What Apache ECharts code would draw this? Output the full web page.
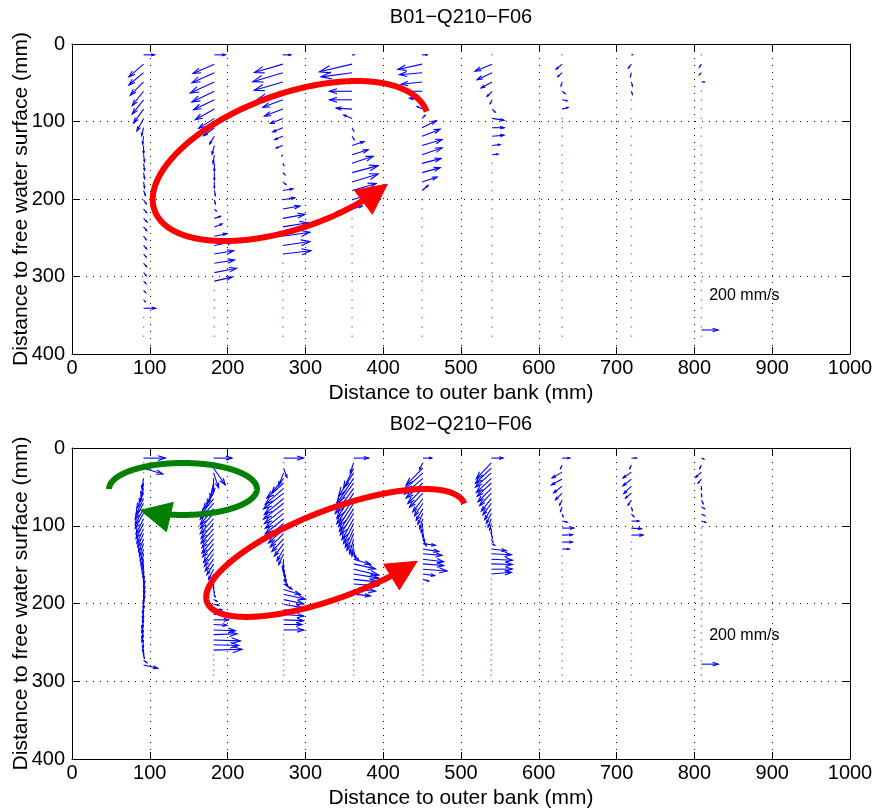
<!DOCTYPE html>
<html><head><meta charset="utf-8">
<script src="https://cdn.jsdelivr.net/npm/echarts@6/dist/echarts.min.js"></script>
<style>html,body{margin:0;padding:0;background:#fff}#c{width:875px;height:811px}</style>
</head><body><div id="c"></div>
<script>
// ---------------- DATA ----------------
const titleTop = 'B01\u2212Q210\u2212F06';
const titleBot = 'B02\u2212Q210\u2212F06';
const xName = 'Distance to outer bank (mm)';
const yName = 'Distance to free water surface (mm)';
const xTicks = [0, 100, 200, 300, 400, 500, 600, 700, 800, 900, 1000];
const yTicks = [0, 100, 200, 300, 400];

// measurement depths (mm)
const depthTop = [14, 26, 37, 49, 61, 72, 84, 96, 108, 119, 131, 143, 154, 166, 178, 189, 201, 213, 225, 236, 248, 260, 271, 283, 295, 306, 318, 330, 341, 353, 365, 377];
const depthBotDense = [13, 19, 26, 32, 39, 45, 52, 58, 65, 71, 78, 84, 91, 97, 104, 110, 117, 123, 130, 136, 143, 149, 156, 162, 169, 175, 182, 188, 195, 201, 208, 214, 221, 227, 234, 240, 247, 253, 260, 266, 273, 279, 286, 292];
const depthBotSparse = [13, 22, 31, 40, 49, 58, 67, 76, 85, 94, 103, 112, 121, 130, 139, 148, 157, 166, 175, 184, 193, 202, 211, 220, 229, 238, 247, 256, 265, 274, 283, 292];

// verticals (distance to outer bank, mm)
const xTop = [92, 183, 271, 360, 450, 540, 630, 719, 809];
const xBot = [92, 182, 272, 362, 451, 539, 630, 719, 809];
const pointsTop = [32, 32, 32, 32, 32, 32, 32, 32, 32];
const pointsBot = [42, 44, 44, 44, 44, 44, 32, 32, 32];

// B01: transverse velocity u (mm/s, + towards inner bank) and vertical velocity w (mm/s, + upward)
const uTop1 = [132, -176, -176, -160, -136, -136, -120, -80, -24, -12, 0, 12, 12, 12, 12, 24, 30, 36, 40, 36, 30, 36, 32, 36, 30, 28, 24, 20, 144];
const wTop1 = [0, -152, -148, -160, -172, -172, -168, -152, -96, -96, -96, -84, -84, -72, -72, -60, -48, -44, -42, -44, -40, -38, -36, -40, -36, -30, -26, -24, 0];
const uTop2 = [132, -256, -268, -288, -268, -248, -228, -188, -128, -56, -28, -16, 0, 0, 0, 12, 12, 24, 72, 92, 150, 232, 232, 240, 264, 212];
const wTop2 = [0, -112, -120, -132, -128, -120, -128, -120, -96, -92, -104, -104, -96, -90, -72, -60, -48, -24, 24, 36, 30, 48, 40, 40, 52, 48];
const uTop3 = [96, -340, -360, -340, -300, -240, -220, -150, -120, -96, -80, -12, 12, 24, 36, 120, 144, 204, 264, 300, 324, 324, 336];
const wTop3 = [0, -100, -108, -100, -96, -90, -84, -60, -50, -40, -30, -12, -24, -24, -30, 20, 24, 36, 48, 50, 48, 48, 40];
const uTop4 = [24, -390, -370, -250, -270, -270, -190, -100, 20, 24, 144, 192, 252, 312, 312, 288, 240, 120];
const wTop4 = [0, -92, -50, -12, 0, 0, 12, 40, -40, -40, 48, 60, 84, 84, 96, 84, 72, 36];
const uTop5 = [60, -290, -270, -250, -220, -150, -60, 36, 168, 216, 240, 240, 228, 216, 180, 72];
const wTop5 = [0, -64, -24, -28, 0, 20, 30, 36, 84, 84, 72, 84, 60, 60, 60, 60];
const uTop6 = [0, -204, -180, -132, -60, -24, 36, 144, 144, 144, 96, 72];
const wTop6 = [0, -84, -84, -72, -60, -48, -36, -24, 0, 12, 12, 8];
const uTop7 = [0, -72, -52, -12, 36, 60, 72];
const wTop7 = [0, -60, -48, -48, -28, -12, 20];
const uTop8 = [12, -36, -12, 12, 12];
const wTop8 = [0, -48, -48, -48, -36];
const uTop9 = [0, -24, -24, 36];
const wTop9 = [0, -36, -24, 0];

// B02
const uBot1 = [260, 0, 230, 0, -20, -30, -50, -80, -90, -100, -100, -100, -90, -90, -80, -70, -60, -50, -40, -30, -20, -10, 0, 10, 10, 10, 10, 0, 0, -10, -10, -10, -20, -20, -20, -20, -10, -10, 0, 10, 40, 170];
const wBot1 = [0, 0, -70, 0, -120, -150, -170, -180, -190, -190, -190, -180, -180, -180, -170, -160, -150, -150, -140, -140, -130, -130, -120, -120, -120, -120, -110, -110, -110, -110, -110, -100, -100, -100, -100, -90, -90, -80, -60, -40, -30, -40];
const uBot2 = [220, 0, 140, 60, 0, -40, -80, -120, -150, -160, -160, -160, -160, -150, -150, -140, -140, -130, -120, -110, -100, -80, -60, -40, -20, 0, 10, 20, 40, 60, 100, 140, 180, 160, 260, 280, 320, 300, 340];
const wBot2 = [0, 0, -200, -180, -170, -180, -190, -190, -190, -190, -190, -180, -180, -180, -170, -170, -170, -160, -160, -150, -140, -130, -120, -100, -80, -60, -40, -30, -20, -10, 0, 0, 0, -10, -10, 10, -10, -10, 10];
const uBot3 = [240, 0, 40, -60, -140, -200, -220, -240, -230, -240, -230, -220, -220, -200, -180, -160, -140, -110, -80, -60, -10, 0, 20, 30, 50, 100, 200, 260, 240, 220, 200, 240, 240, 220, 240];
const wBot3 = [0, 0, -110, -150, -170, -180, -190, -190, -190, -190, -180, -180, -180, -170, -170, -160, -150, -150, -140, -130, -120, -110, -100, -90, -80, -60, -60, -60, -50, -40, -20, -20, -10, 0, 0];
const uBot4 = [180, -40, -120, -180, -200, -220, -220, -200, -200, -180, -170, -160, -140, -120, -100, -80, -50, -20, 20, 60, 200, 260, 300, 300, 280, 300, 260, 200];
const wBot4 = [0, -120, -240, -280, -300, -300, -300, -300, -300, -280, -270, -260, -250, -240, -220, -200, -180, -150, -110, -80, -60, -60, -70, -50, -30, -20, -20, -20];
const uBot5 = [108, -40, -200, -220, -220, -200, -180, -160, -120, -100, -80, -60, -40, -20, 0, 20, 40, 150, 190, 230, 250, 250, 290, 140, 70];
const wBot5 = [0, -80, -200, -200, -190, -180, -180, -170, -160, -150, -140, -130, -120, -110, -100, -100, -80, -20, -30, -20, -30, -20, -20, -20, -20];
const uBot6 = [140, -180, -190, -190, -180, -170, -160, -140, -120, -100, -80, -60, -40, -20, 0, 12, 20, 40, 180, 240, 252, 252, 250, 240];
const wBot6 = [0, -190, -180, -170, -170, -160, -160, -150, -150, -140, -130, -120, -100, -80, -60, -50, -40, -20, -20, -12, -12, -8, 4, 20];
const uBot7 = [92, -20, -120, -128, -100, -80, -30, -20, 12, 60, 140, 124, 124, 84];
const wBot7 = [0, -40, -70, -70, -80, -80, -60, -50, -30, -12, 0, 4, 0, 0];
const uBot8 = [60, -20, -100, -100, -90, -70, -40, 12, 30, 92, 120, 140];
const wBot8 = [0, -40, -70, -80, -90, -60, -60, -40, -30, 0, -8, 0];
const uBot9 = [30, -20, -68, -40, 0, 4, 20, 40, 40, 52];
const wBot9 = [-12, -40, -64, -48, -40, -40, -40, -20, -20, -16];

// reference vector
const scaleValue = 200;
const scaleLabel = '200 mm/s';
const scaleTop = [809, 369];
const scaleBot = [809, 278];
const scaleLabelTop = [819, 324];
const scaleLabelBot = [819, 241];

// circulation sketches: [centre x, centre depth, semi-axis a, semi-axis b (mm), tilt deg, start deg, end deg]
const loopRedTop = [281, 151, 186, 86, 20, 0, -305];
const loopRedBot = [339, 135, 177, 56, 21, 0, -302];
const loopGreenBot = [142.7, 52.7, 95, 33.4, 0, 180, 485];

// ---------------- CHART ----------------
const FONT = '"Liberation Sans", Arial, Helvetica, sans-serif';
const FS = 20;
const FN = 21;
const S = 0.1075; // plot mm per mm/s

function quiverData(xs, grids, us, ws, counts) {
  const out = [];
  for (let c = 0; c < xs.length; c++) {
    const g = grids[c];
    for (let i = 0; i < counts[c]; i++) {
      const u = us[c][i] !== undefined ? us[c][i] : 0;
      const w = ws[c][i] !== undefined ? ws[c][i] : 0;
      out.push([xs[c], g[i], u, w]);
    }
  }
  return out;
}

const dataTop = quiverData(xTop, xTop.map(() => depthTop),
  [uTop1, uTop2, uTop3, uTop4, uTop5, uTop6, uTop7, uTop8, uTop9],
  [wTop1, wTop2, wTop3, wTop4, wTop5, wTop6, wTop7, wTop8, wTop9], pointsTop);
const gridsBot = [depthBotDense, depthBotDense, depthBotDense, depthBotDense, depthBotDense, depthBotDense, depthBotSparse, depthBotSparse, depthBotSparse];
const dataBot = quiverData(xBot, gridsBot,
  [uBot1, uBot2, uBot3, uBot4, uBot5, uBot6, uBot7, uBot8, uBot9],
  [wBot1, wBot2, wBot3, wBot4, wBot5, wBot6, wBot7, wBot8, wBot9], pointsBot);

function renderArrow(params, api) {
  const x = api.value(0), d = api.value(1), u = api.value(2), w = api.value(3);
  const p0 = api.coord([x, d]);
  if (u === 0 && w === 0) {
    return {type: 'rect', shape: {x: p0[0] - 0.75, y: p0[1] - 0.75, width: 1.5, height: 1.5},
      style: {fill: 'rgba(60,60,255,0.6)'}};
  }
  const p1 = api.coord([x + u * S, d - w * S]);
  const du = p1[0] - p0[0], dv = p1[1] - p0[1];
  const al = 0.33, be = 0.33;
  const b1 = [p1[0] - al * (du + be * dv), p1[1] - al * (dv - be * du)];
  const b2 = [p1[0] - al * (du - be * dv), p1[1] - al * (dv + be * du)];
  return {type: 'group', children: [
    {type: 'line', shape: {x1: p0[0], y1: p0[1], x2: p1[0], y2: p1[1]}, style: {stroke: '#0000ff', lineWidth: 1.1}},
    {type: 'polyline', shape: {points: [b1, p1, b2]}, style: {stroke: '#0000ff', lineWidth: 1.1, fill: null}}
  ]};
}

function loopRenderer(spec, color) {
  return function (params, api) {
    const cx = spec[0], cy = spec[1], a = spec[2], b = spec[3], rot = spec[4], t0 = spec[5], t1 = spec[6];
    const c = api.coord([cx, cy]);
    const A = api.coord([cx + a, cy])[0] - c[0];
    const B = api.coord([cx + b, cy])[0] - c[0];
    const th = rot * Math.PI / 180;
    const P = function (t) {
      const r = t * Math.PI / 180;
      return [c[0] + A * Math.cos(r) * Math.cos(th) + B * Math.sin(r) * Math.sin(th),
              c[1] - A * Math.cos(r) * Math.sin(th) + B * Math.sin(r) * Math.cos(th)];
    };
    const step = t1 > t0 ? 1 : -1;
    const tip = P(t1);
    const prev = P(t1 - step * 3);
    let dx = tip[0] - prev[0], dy = tip[1] - prev[1];
    const n = Math.hypot(dx, dy); dx /= n; dy /= n;
    const L = 30, W = 15;
    const base = [tip[0] - dx * L, tip[1] - dy * L];
    const tri = [tip, [base[0] - dy * W, base[1] + dx * W], [base[0] + dy * W, base[1] - dx * W]];
    const pts = [];
    const span = Math.abs(t1 - t0);
    for (let t = t0; step > 0 ? t <= t1 : t >= t1; t += step * 0.5) {
      const p = P(t);
      if (Math.abs(t - t0) > span / 2 && Math.hypot(p[0] - tip[0], p[1] - tip[1]) < L * 0.75) break;
      pts.push(p);
    }
    return {type: 'group', children: [
      {type: 'polyline', shape: {points: pts}, style: {stroke: color, lineWidth: 6, fill: null, lineJoin: 'round'}},
      {type: 'polygon', shape: {points: tri}, style: {fill: color, stroke: color, lineWidth: 1}}
    ]};
  };
}

function textRenderer(pos, txt) {
  return function (params, api) {
    const p = api.coord(pos);
    return {type: 'text', x: p[0], y: p[1],
      style: {text: txt, fill: '#000', font: '16px ' + FONT, align: 'left', verticalAlign: 'middle'}};
  };
}

function xAxisPair(gi) {
  const common = {gridIndex: gi, type: 'value', min: 0, max: 1000, interval: 100};
  return [
    Object.assign({}, common, {
      position: 'bottom',
      axisLine: {show: true, onZero: false, lineStyle: {color: '#000', width: 1}},
      axisTick: {show: true, inside: true, length: 7, lineStyle: {color: '#000'}},
      axisLabel: {show: true, color: '#000', fontSize: FS, fontFamily: FONT, margin: 4,
        formatter: v => (xTicks.indexOf(v) >= 0 ? String(v) : '')},
      splitLine: {show: true, lineStyle: {color: '#111', width: 1, type: [1, 6]}},
      name: xName, nameLocation: 'middle', nameGap: 29, nameMoveOverlap: false,
      nameTextStyle: {color: '#000', fontSize: FN, fontFamily: FONT}
    }),
    Object.assign({}, common, {
      position: 'top',
      axisLine: {show: true, onZero: false, lineStyle: {color: '#000', width: 1}},
      axisTick: {show: true, inside: true, length: 7, lineStyle: {color: '#000'}},
      axisLabel: {show: false}, splitLine: {show: false}
    })
  ];
}
function yAxisPair(gi) {
  const common = {gridIndex: gi, type: 'value', min: 0, max: 400, interval: 100, inverse: true};
  return [
    Object.assign({}, common, {
      position: 'left',
      axisLine: {show: true, onZero: false, lineStyle: {color: '#000', width: 1}},
      axisTick: {show: true, inside: true, length: 7, lineStyle: {color: '#000'}},
      axisLabel: {show: true, color: '#000', fontSize: FS, fontFamily: FONT, margin: 7,
        formatter: v => (yTicks.indexOf(v) >= 0 ? String(v) : '')},
      splitLine: {show: true, lineStyle: {color: '#111', width: 1, type: [1, 6]}},
      name: yName, nameLocation: 'middle', nameGap: 40, nameRotate: 90, nameMoveOverlap: false,
      nameTextStyle: {color: '#000', fontSize: FN, fontFamily: FONT}
    }),
    Object.assign({}, common, {
      position: 'right',
      axisLine: {show: true, onZero: false, lineStyle: {color: '#000', width: 1}},
      axisTick: {show: true, inside: true, length: 7, lineStyle: {color: '#000'}},
      axisLabel: {show: false}, splitLine: {show: false}
    })
  ];
}

const option = {
  backgroundColor: '#fff',
  animation: false,
  graphic: [
    {type: 'text', x: 461, y: 17, style: {text: titleTop, fill: '#000', font: FS + 'px ' + FONT, align: 'center', verticalAlign: 'middle'}},
    {type: 'text', x: 461, y: 424, style: {text: titleBot, fill: '#000', font: FS + 'px ' + FONT, align: 'center', verticalAlign: 'middle'}}
  ],
  grid: [
    {left: 72, top: 44, width: 778, height: 310, containLabel: false, outerBoundsMode: 'none'},
    {left: 72, top: 448, width: 778, height: 311, containLabel: false, outerBoundsMode: 'none'}
  ],
  xAxis: xAxisPair(0).concat(xAxisPair(1)),
  yAxis: yAxisPair(0).concat(yAxisPair(1)),
  series: [
    {type: 'custom', xAxisIndex: 0, yAxisIndex: 0, data: dataTop, renderItem: renderArrow, clip: false, z: 2,
      encode: {x: 0, y: 1}, silent: true},
    {type: 'custom', xAxisIndex: 2, yAxisIndex: 2, data: dataBot, renderItem: renderArrow, clip: false, z: 2,
      encode: {x: 0, y: 1}, silent: true},
    {type: 'custom', xAxisIndex: 0, yAxisIndex: 0, data: [[scaleTop[0], scaleTop[1], scaleValue, 0]], renderItem: renderArrow, z: 2, encode: {x: 0, y: 1}, silent: true},
    {type: 'custom', xAxisIndex: 2, yAxisIndex: 2, data: [[scaleBot[0], scaleBot[1], scaleValue, 0]], renderItem: renderArrow, z: 2, encode: {x: 0, y: 1}, silent: true},
    {type: 'custom', xAxisIndex: 0, yAxisIndex: 0, data: [scaleLabelTop], renderItem: textRenderer(scaleLabelTop, scaleLabel), z: 3, encode: {x: 0, y: 1}, silent: true},
    {type: 'custom', xAxisIndex: 2, yAxisIndex: 2, data: [scaleLabelBot], renderItem: textRenderer(scaleLabelBot, scaleLabel), z: 3, encode: {x: 0, y: 1}, silent: true},
    {type: 'custom', xAxisIndex: 0, yAxisIndex: 0, data: [[loopRedTop[0], loopRedTop[1]]], renderItem: loopRenderer(loopRedTop, '#ff0000'), clip: false, z: 6, encode: {x: 0, y: 1}, silent: true},
    {type: 'custom', xAxisIndex: 2, yAxisIndex: 2, data: [[loopRedBot[0], loopRedBot[1]]], renderItem: loopRenderer(loopRedBot, '#ff0000'), clip: false, z: 6, encode: {x: 0, y: 1}, silent: true},
    {type: 'custom', xAxisIndex: 2, yAxisIndex: 2, data: [[loopGreenBot[0], loopGreenBot[1]]], renderItem: loopRenderer(loopGreenBot, '#008000'), clip: false, z: 6, encode: {x: 0, y: 1}, silent: true}
  ]
};

const chart = echarts.init(document.getElementById('c'), null, {renderer: 'canvas'});
chart.setOption(option);
</script>
</body></html>
